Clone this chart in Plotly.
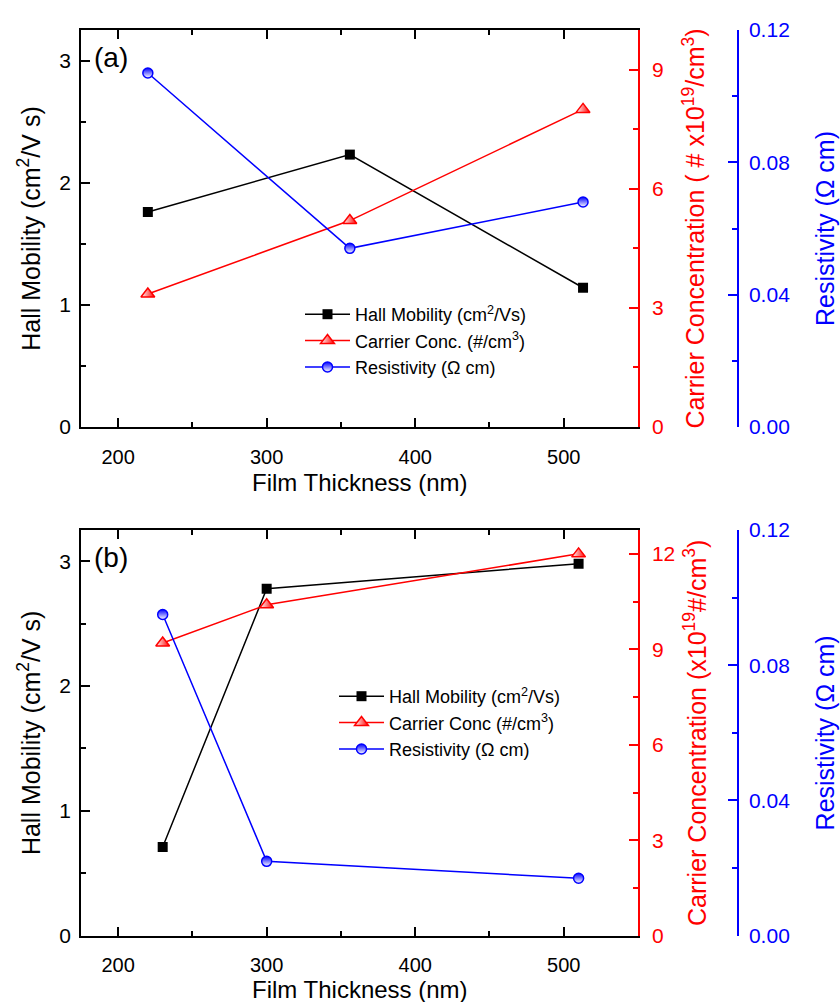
import plotly.graph_objects as go

# ---------------- data ----------------
thick_a = [220, 356, 513]
hall_a = [1.76, 2.23, 1.14]
conc_a = [3.35, 5.2, 8.0]
res_a = [0.107, 0.054, 0.068]

thick_b = [230, 300, 510]
hall_b = [0.71, 2.78, 2.98]
conc_b = [9.2, 10.4, 12.0]
res_b = [0.095, 0.022, 0.017]

x_ticks = [200, 300, 400, 500]
hall_ticks = [0, 1, 2, 3]
conc_ticks_a = [0, 3, 6, 9]
conc_ticks_b = [0, 3, 6, 9, 12]
res_ticks = [0.00, 0.04, 0.08, 0.12]

# ---------------- layout geometry ----------------
W, H = 840, 1002
FONT = "Liberation Sans, Arial, sans-serif"
xdom = [81 / W, 638 / W]
ydom_a = [1 - 427 / H, 1 - 30 / H]
ydom_b = [1 - 935.7 / H, 1 - 530 / H]
blue_pos = 738 / W

BLACK, RED, BLUE = "#000000", "#ff0000", "#0000ff"

fig = go.Figure()


def add_panel(xs, hall, conc, res, xa, ya_h, ya_c, ya_r, legend, names):
    fig.add_trace(go.Scatter(
        x=xs, y=hall, mode="lines+markers", name=names[0],
        xaxis=xa, yaxis=ya_h, legend=legend,
        line=dict(color=BLACK, width=1.5),
        marker=dict(symbol="square", size=10, color=BLACK)))
    fig.add_trace(go.Scatter(
        x=xs, y=conc, mode="lines+markers", name=names[1],
        xaxis=xa, yaxis=ya_c, legend=legend,
        line=dict(color=RED, width=1.5),
        marker=dict(symbol="triangle-up", size=12, color="white",
                    gradient=dict(type="horizontal", color=RED),
                    line=dict(color=RED, width=1.5))))
    fig.add_trace(go.Scatter(
        x=xs, y=res, mode="lines+markers", name=names[2],
        xaxis=xa, yaxis=ya_r, legend=legend,
        line=dict(color=BLUE, width=1.5),
        marker=dict(symbol="circle", size=10, color=BLUE,
                    gradient=dict(type="vertical", color="white"),
                    line=dict(color=BLUE, width=1.5))))


add_panel(thick_a, hall_a, conc_a, res_a, "x", "y", "y2", "y3", "legend",
          ["Hall Mobility (cm<sup>2</sup>/Vs)",
           "Carrier Conc. (#/cm<sup>3</sup>)",
           "Resistivity (\u03a9 cm)"])
add_panel(thick_b, hall_b, conc_b, res_b, "x2", "y4", "y5", "y6", "legend2",
          ["Hall Mobility (cm<sup>2</sup>/Vs)",
           "Carrier Conc (#/cm<sup>3</sup>)",
           "Resistivity (\u03a9 cm)"])

TITLEF = 25


def base_axis(color):
    return dict(showline=True, linecolor=color, linewidth=1.5,
                ticks="inside", ticklen=9, tickwidth=1.5, tickcolor=color,
                showgrid=False, zeroline=False, automargin=False,
                tickfont=dict(family=FONT, size=21, color=color))


def xaxis(anchor):
    d = base_axis(BLACK)
    d.update(domain=xdom, anchor=anchor, range=[175, 550],
             tickvals=x_ticks, mirror="ticks",
             tickfont=dict(family=FONT, size=20, color=BLACK),
             minor=dict(ticks="inside", ticklen=5, dtick=50, tick0=0,
                        tickcolor=BLACK, tickwidth=1.5),
             ticklabelstandoff=11)
    return d


def hall_axis(anchor, dom):
    d = base_axis(BLACK)
    d.update(domain=dom, anchor=anchor, range=[0, 3.25],
             tickvals=hall_ticks,
             minor=dict(ticks="inside", ticklen=5, dtick=0.5, tick0=0,
                        tickcolor=BLACK, tickwidth=1.5),
             ticklabelstandoff=4,
             title=dict(text="Hall Mobility (cm<sup>2</sup>/V s)", standoff=12,
                        font=dict(family=FONT, size=TITLEF, color=BLACK)))
    return d


def conc_axis(anchor, overlay, rng, ticks, title, standoff):
    d = base_axis(RED)
    d.update(overlaying=overlay, anchor=anchor, side="right", range=rng,
             tickvals=ticks,
             minor=dict(ticks="inside", ticklen=5, dtick=1.5, tick0=0,
                        tickcolor=RED, tickwidth=1.5),
             ticklabelstandoff=8,
             title=dict(text=title, standoff=standoff,
                        font=dict(family=FONT, size=TITLEF, color=RED)))
    return d


def res_axis(overlay):
    d = base_axis(BLUE)
    d.update(overlaying=overlay, anchor="free", position=blue_pos,
             side="right", range=[0, 0.12], tickvals=res_ticks,
             tickformat=".2f",
             minor=dict(ticks="inside", ticklen=5, dtick=0.02, tick0=0,
                        tickcolor=BLUE, tickwidth=1.5),
             ticklabelstandoff=6,
             title=dict(text="Resistivity (\u03a9 cm)", standoff=26,
                        font=dict(family=FONT, size=TITLEF, color=BLUE)))
    return d


xmid = (xdom[0] + xdom[1]) / 2

fig.update_layout(
    width=W, height=H,
    margin=dict(l=0, r=0, t=0, b=0),
    paper_bgcolor="white", plot_bgcolor="white",
    font=dict(family=FONT, color=BLACK),
    xaxis=xaxis("y"),
    yaxis=hall_axis("x", ydom_a),
    yaxis2=conc_axis("x", "y", [0, 10], conc_ticks_a,
                     "Carrier Concentration ( # x10<sup>19</sup>/cm<sup>3</sup>)",
                     24),
    yaxis3=res_axis("y"),
    xaxis2=xaxis("y4"),
    yaxis4=hall_axis("x2", ydom_b),
    yaxis5=conc_axis("x2", "y4", [0, 12.75], conc_ticks_b,
                     "Carrier Concentration (x10<sup>19</sup>#/cm<sup>3</sup>)",
                     14),
    yaxis6=res_axis("y4"),
    legend=dict(x=300 / W, y=1 - 296 / H, xanchor="left", yanchor="top",
                bgcolor="rgba(0,0,0,0)", font=dict(family=FONT, size=18),
                itemwidth=45, tracegroupgap=0),
    legend2=dict(x=334 / W, y=1 - 678 / H, xanchor="left", yanchor="top",
                 bgcolor="rgba(0,0,0,0)", font=dict(family=FONT, size=18),
                 itemwidth=45, tracegroupgap=0),
    showlegend=True,
    annotations=[
        dict(text="(a)", x=92 / W, y=1 - 40 / H, xref="paper", yref="paper",
             xanchor="left", yanchor="top", showarrow=False,
             font=dict(family=FONT, size=28, color=BLACK)),
        dict(text="(b)", x=92 / W, y=1 - 540 / H, xref="paper", yref="paper",
             xanchor="left", yanchor="top", showarrow=False,
             font=dict(family=FONT, size=28, color=BLACK)),
        dict(text="Film Thickness (nm)", x=xmid, y=1 - 482 / H,
             xref="paper", yref="paper", xanchor="center", yanchor="middle",
             showarrow=False, font=dict(family=FONT, size=24, color=BLACK)),
        dict(text="Film Thickness (nm)", x=xmid, y=1 - 989 / H,
             xref="paper", yref="paper", xanchor="center", yanchor="middle",
             showarrow=False, font=dict(family=FONT, size=24, color=BLACK)),
    ],
)

fig.write_html("out.html")
